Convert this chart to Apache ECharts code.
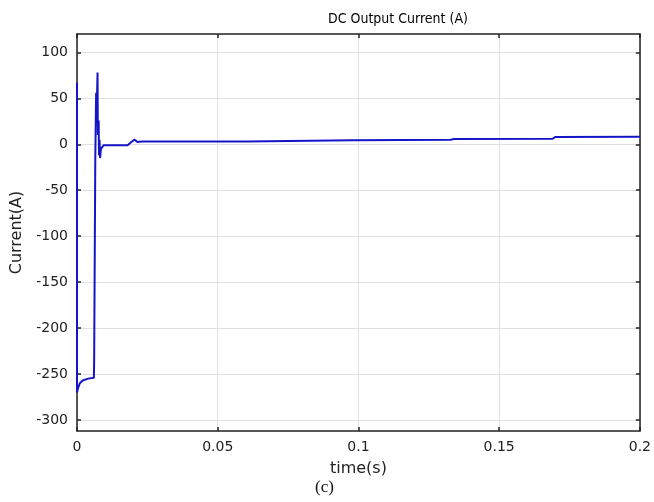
<!DOCTYPE html>
<html>
<head>
<meta charset="utf-8">
<script src="https://cdn.jsdelivr.net/npm/echarts@6/dist/echarts.min.js"></script>
<style>
  html, body { margin: 0; padding: 0; background: #fff; }
  #chart { width: 654px; height: 502px; }
</style>
</head>
<body>
<div id="chart"></div>
<script>
// time (s) and current (A)
var timeS = [0, 0, 0.0003, 0.001, 0.002, 0.004, 0.0060, 0.0061, 0.0064, 0.0065, 0.0068, 0.0071,
  0.0073, 0.0074, 0.0077, 0.0078, 0.0080, 0.0082, 0.0085, 0.0088, 0.0095, 0.012, 0.018, 0.0195,
  0.0205, 0.0215, 0.023, 0.04, 0.0603, 0.061, 0.0977, 0.098, 0.1327, 0.134, 0.169, 0.170, 0.2];
var currentA = [67, -270, -266, -260, -257, -255, -254, -235, -235, -15, 56, 50,
  78, 10, 26, -12, 5, -15, -5, -3, -1, -1, -1, 3,
  5, 2.5, 3, 3, 3, 4, 4.3, 4.5, 5, 5.8, 6, 8, 8.3];
var xTicks = [0, 0.05, 0.1, 0.15, 0.2];
var yTicks = [-300, -250, -200, -150, -100, -50, 0, 50, 100];

var dom = document.getElementById("chart");
var myChart = echarts.init(dom);

var points = [];
for (var i = 0; i < timeS.length; i++) {
    points.push([timeS[i], currentA[i]]);
}

var font = 'DejaVu Sans';
var axisLine = {show: true, onZero: false, lineStyle: {color: '#222', width: 1.5}};
var tick = {show: true, inside: true, length: 4, lineStyle: {color: '#222', width: 1.5}};
var yTick = {show: true, inside: true, length: 4, customValues: yTicks, lineStyle: {color: '#222', width: 1.5}};

var option = {
    animation: false,
    backgroundColor: '#fff',
    grid: {left: 77, right: 14, top: 34, bottom: 71},
    graphic: [
        {type: 'text', left: 328, top: 12,
         style: {text: 'DC Output Current (A)', font: '14px "DejaVu Sans Condensed", "DejaVu Sans"', fill: '#000'}},
        {type: 'text', left: 315, top: 479,
         style: {text: '(c)', font: '17px "Liberation Serif"', fill: '#111'}}
    ],
    xAxis: [{
        type: 'value', min: 0, max: 0.2, interval: 0.05,
        name: 'time(s)', nameLocation: 'middle', nameGap: 30,
        nameTextStyle: {fontFamily: font, fontSize: 16, color: '#222'},
        axisLine: axisLine, axisTick: tick,
        axisLabel: {fontFamily: font, fontSize: 14, color: '#222', margin: 9,
            formatter: function (v) { return xTicks.indexOf(v) >= 0 ? String(v) : ''; }},
        splitLine: {show: true, lineStyle: {color: '#e0e0e0', width: 1}}
    }, {
        type: 'value', position: 'top', min: 0, max: 0.2, interval: 0.05,
        axisLine: axisLine, axisTick: tick, axisLabel: {show: false}, splitLine: {show: false}
    }],
    yAxis: [{
        type: 'value', min: -312, max: 120, splitNumber: 9,
        name: 'Current(A)', nameLocation: 'middle', nameGap: 48, nameRotate: 90,
        nameTextStyle: {fontFamily: font, fontSize: 16, color: '#222'},
        axisLine: axisLine, axisTick: yTick,
        axisLabel: {fontFamily: font, fontSize: 14, color: '#222', margin: 9, customValues: yTicks},
        splitLine: {show: true, lineStyle: {color: '#e0e0e0', width: 1}}
    }, {
        type: 'value', position: 'right', min: -312, max: 120, splitNumber: 9,
        axisLine: axisLine, axisTick: yTick, axisLabel: {show: false}, splitLine: {show: false}
    }],
    series: [{
        type: 'line',
        data: points,
        showSymbol: false,
        lineStyle: {color: '#1515c8', width: 2},
        itemStyle: {color: '#1515c8'}
    }]
};

myChart.setOption(option, true);
</script>
</body>
</html>
